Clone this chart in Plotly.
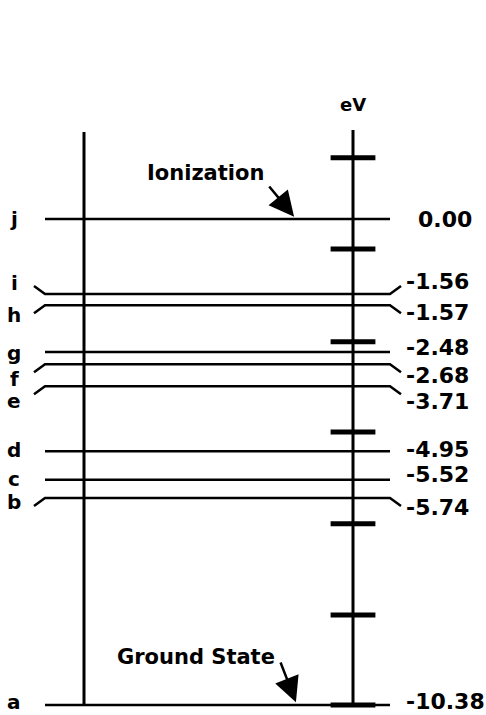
import plotly.graph_objects as go

# ---------------- data ----------------
level_names = ["a", "b", "c", "d", "e", "f", "g", "h", "i", "j"]
level_energy_labels = ["-10.38", "-5.74", "-5.52", "-4.95", "-3.71",
                       "-2.68", "-2.48", "-1.57", "-1.56", "0.00"]
# height of each level line on the diagram's eV scale (diagram is spread for legibility)
level_drawn_ev = [-10.38, -5.96, -5.57, -4.96, -3.57, -3.10, -2.84, -1.84, -1.60, 0.00]
axis_tick_ev = [1.31, -0.64, -2.62, -4.55, -6.51, -8.46, -10.38]
axis_top_ev = 1.90
left_bar_top_ev = 1.86
axis_unit = "eV"
ionization_text = "Ionization"
ionization_level = "j"
ground_text = "Ground State"
ground_level = "a"

# ---------------- layout / style ----------------
W, H = 486, 715
PX_PER_EV = 46.82
ZERO_PX = 219
Y_TOP = ZERO_PX / PX_PER_EV
Y_BOT = -(H - ZERO_PX) / PX_PER_EV

LINE_X0, LINE_X1 = 45, 390
LEAD_DX = 11
BEND_PX = 8
# (left end direction, right end direction): +1 up, -1 down, 0 straight
BEND = {"i": (1, 1), "h": (-1, -1), "f": (-1, -1), "e": (-1, -1), "b": (-1, -1)}
# label offsets in pixels (positive = up)
LEFT_LABEL_DY = {"a": 3, "b": -4, "c": 1, "d": 1, "e": -15, "f": -15,
                 "g": -1, "h": -10, "i": 11, "j": 0}
RIGHT_LABEL_DY = {"a": 3, "b": -9, "c": 5, "d": 2, "e": -15, "f": -11,
                  "g": 4, "h": -7, "i": 12, "j": 0}
LEFT_BAR_X = 84
AXIS_X = 353
LETTER_X = 14
NUM_X = 404
FONT = "DejaVu Sans"
INK = "black"

fig = go.Figure()

ev_per_px = 1.0 / PX_PER_EV

# level lines
for name, ev in zip(level_names, level_drawn_ev):
    bl, br = BEND.get(name, (0, 0))
    xs, ys = [], []
    if bl:
        xs.append(LINE_X0 - LEAD_DX)
        ys.append(ev + bl * BEND_PX * ev_per_px)
    xs += [LINE_X0, LINE_X1]
    ys += [ev, ev]
    if br:
        xs.append(LINE_X1 + LEAD_DX)
        ys.append(ev + br * BEND_PX * ev_per_px)
    fig.add_trace(go.Scatter(x=xs, y=ys, mode="lines",
                             line=dict(color=INK, width=2.5),
                             hoverinfo="skip", showlegend=False))

# left vertical bar
fig.add_trace(go.Scatter(x=[LEFT_BAR_X, LEFT_BAR_X],
                         y=[left_bar_top_ev, min(level_drawn_ev)],
                         mode="lines", line=dict(color=INK, width=3),
                         hoverinfo="skip", showlegend=False))
# eV axis
fig.add_trace(go.Scatter(x=[AXIS_X, AXIS_X],
                         y=[axis_top_ev, min(level_drawn_ev)],
                         mode="lines", line=dict(color=INK, width=3),
                         hoverinfo="skip", showlegend=False))
# axis ticks
fig.add_trace(go.Scatter(x=[AXIS_X] * len(axis_tick_ev), y=axis_tick_ev,
                         mode="markers",
                         marker=dict(symbol="line-ew", size=32,
                                     line=dict(color=INK, width=5)),
                         hoverinfo="skip", showlegend=False))

annotations = []
for name, lab, ev in zip(level_names, level_energy_labels, level_drawn_ev):
    annotations.append(dict(x=LETTER_X, y=ev, text="<b>%s</b>" % name, showarrow=False,
                            xanchor="center", yanchor="middle",
                            yshift=LEFT_LABEL_DY[name],
                            font=dict(family=FONT, size=20, color=INK)))
    annotations.append(dict(x=NUM_X, y=ev, text="<b>%s</b>" % lab, showarrow=False,
                            xanchor="left", yanchor="middle",
                            xshift=0 if lab.startswith("-") else 12,
                            yshift=RIGHT_LABEL_DY[name],
                            font=dict(family=FONT, size=22, color=INK)))

annotations.append(dict(x=AXIS_X, y=axis_top_ev, text="<b>%s</b>" % axis_unit,
                        showarrow=False, xanchor="center", yanchor="middle",
                        yshift=26, font=dict(family=FONT, size=18, color=INK)))

ion_ev = level_drawn_ev[level_names.index(ionization_level)]
gnd_ev = level_drawn_ev[level_names.index(ground_level)]

annotations.append(dict(x=266, y=ion_ev, text="<b>%s</b>" % ionization_text,
                        showarrow=False, xanchor="right", yanchor="middle",
                        yshift=46, font=dict(family=FONT, size=21, color=INK)))
annotations.append(dict(x=296, y=ion_ev, ax=-28, ay=-34, text="",
                        showarrow=True, arrowhead=2, arrowsize=2,
                        arrowwidth=2.5, arrowcolor=INK, standoff=3))

annotations.append(dict(x=277, y=gnd_ev, text="<b>%s</b>" % ground_text,
                        showarrow=False, xanchor="right", yanchor="middle",
                        yshift=48, font=dict(family=FONT, size=21, color=INK)))
annotations.append(dict(x=297, y=gnd_ev, ax=-17, ay=-44, text="",
                        showarrow=True, arrowhead=2, arrowsize=2,
                        arrowwidth=2.5, arrowcolor=INK, standoff=3))

fig.update_layout(
    width=W, height=H,
    margin=dict(l=0, r=0, t=0, b=0),
    paper_bgcolor="white", plot_bgcolor="white",
    xaxis=dict(range=[0, W], visible=False, fixedrange=True),
    yaxis=dict(range=[Y_BOT, Y_TOP], visible=False, fixedrange=True),
    annotations=annotations,
    showlegend=False,
)

fig.write_html("out.html", config={"displayModeBar": False},
               post_script="document.body.style.margin='0';"
                           "document.body.style.overflow='hidden';")
